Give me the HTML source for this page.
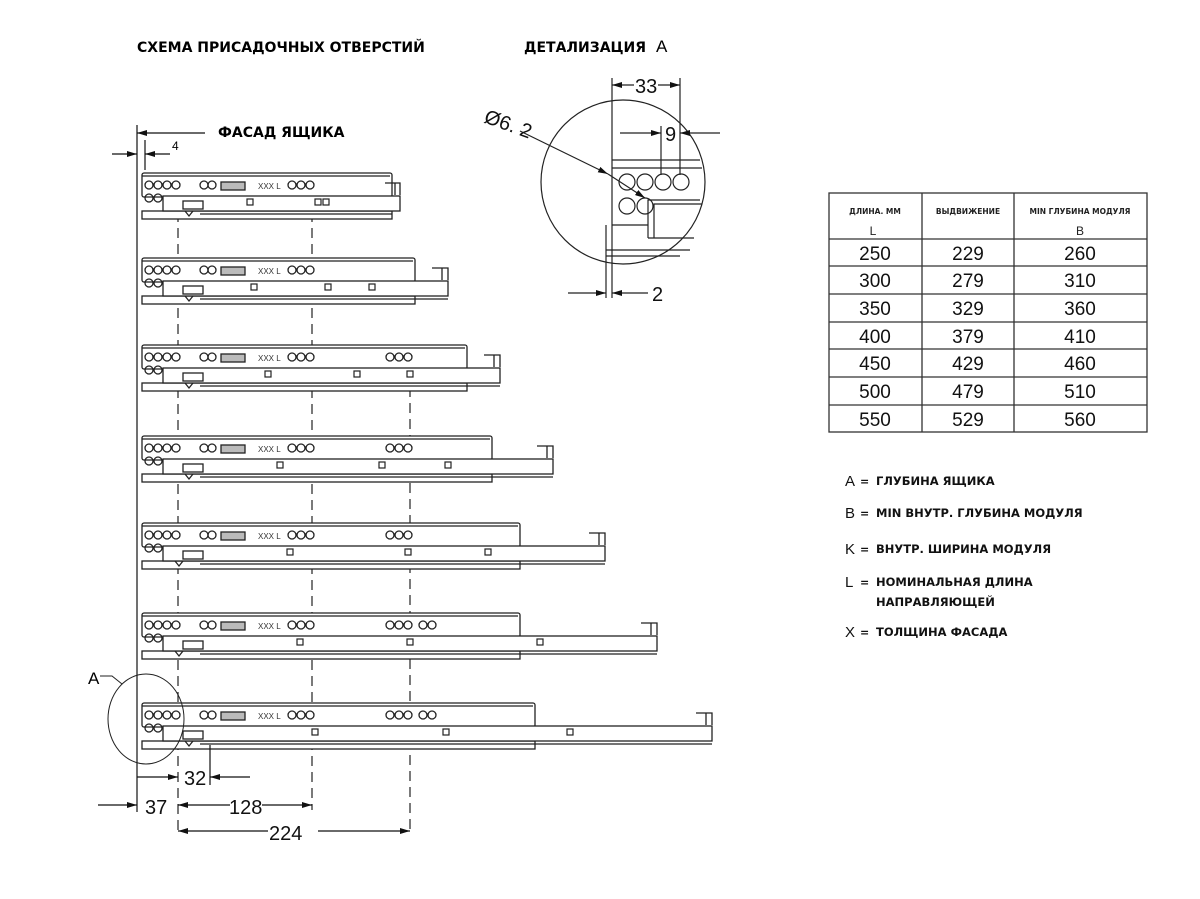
<!DOCTYPE html>
<html><head><meta charset="utf-8"><style>
body{margin:0;background:#fff;}
svg{display:block;}
.t{font-family:"Liberation Sans",sans-serif;}
.b{font-family:"DejaVu Sans","Liberation Sans",sans-serif;font-weight:bold;}
.n{font-family:"Liberation Sans Narrow","Liberation Sans",sans-serif;}
</style></head><body>
<svg width="1200" height="899" viewBox="0 0 1200 899" xmlns="http://www.w3.org/2000/svg">
<defs>
<marker id="ar" viewBox="0 0 10 6" refX="10" refY="3" markerWidth="10" markerHeight="6" orient="auto-start-reverse" markerUnits="userSpaceOnUse"><path d="M0,0 L10,3 L0,6z" fill="#111"/></marker>
<g id="h" fill="none" stroke="#222" stroke-width="1.3">
<circle cx="149" cy="12" r="4"/><circle cx="158" cy="12" r="4"/><circle cx="167" cy="12" r="4"/><circle cx="176" cy="12" r="4"/>
<circle cx="149" cy="25" r="4"/><circle cx="158" cy="25" r="4"/>
<circle cx="204" cy="12" r="4"/><circle cx="212" cy="12" r="4"/>
<rect x="221" y="9" width="24" height="8" fill="#bbb"/>
<circle cx="292" cy="12" r="4"/><circle cx="301" cy="12" r="4"/><circle cx="310" cy="12" r="4"/>
<rect x="183" y="28" width="20" height="8"/>
</g>
<g id="x3" fill="none" stroke="#222" stroke-width="1.3"><circle cx="390" cy="12" r="4"/><circle cx="399" cy="12" r="4"/><circle cx="408" cy="12" r="4"/></g>
<g id="x2" fill="none" stroke="#222" stroke-width="1.3"><circle cx="423" cy="12" r="4"/><circle cx="432" cy="12" r="4"/></g>
<rect id="sq" x="-3" y="26" width="6" height="6" fill="#fff" stroke="#222" stroke-width="1.2"/>
</defs>

<text x="137" y="52" class="b" font-size="14">СХЕМА ПРИСАДОЧНЫХ ОТВЕРСТИЙ</text>
<text x="524" y="52" class="b" font-size="14">ДЕТАЛИЗАЦИЯ</text>
<text x="656" y="52" class="n" font-size="17">A</text>
<text x="218" y="137" class="b" font-size="14">ФАСАД ЯЩИКА</text>

<g stroke="#111" stroke-width="1.2" fill="none">
<line x1="137" y1="125" x2="137" y2="812"/>
<line x1="145" y1="140" x2="145" y2="170"/>
<line x1="188" y1="133" x2="137" y2="133" marker-end="url(#ar)"/>
<line x1="188" y1="133" x2="205" y2="133"/>
<line x1="112" y1="154" x2="137" y2="154" marker-end="url(#ar)"/>
<line x1="170" y1="154" x2="145" y2="154" marker-end="url(#ar)"/>
</g>
<text x="172" y="150" class="n" font-size="12">4</text>

<!-- dashed -->
<g stroke="#222" stroke-width="1.2" stroke-dasharray="10,6">
<line x1="178" y1="180" x2="178" y2="835"/>
<line x1="312" y1="180" x2="312" y2="810"/>
<line x1="410" y1="355" x2="410" y2="835"/>
</g>

<!-- rail template applied -->
<g stroke="#222" stroke-width="1.3" fill="#fff">
<!-- rail 1 -->
<g transform="translate(0,173)"><rect x="142" y="0" width="250" height="24" rx="2"/><line x1="142" y1="3" x2="390" y2="3"/><rect x="142" y="38" width="250" height="8"/><line x1="200" y1="41" x2="392" y2="41"/><rect x="163" y="23" width="237" height="15"/><path d="M385,10 h10 v12 M395,10 h5 v12" fill="none"/><use href="#h"/><use href="#sq" x="250"/><use href="#sq" x="318"/><use href="#sq" x="326"/><path d="M185,38 l4,5 l4,-5" fill="none"/></g>
<!-- rail 2 -->
<g transform="translate(0,258)"><rect x="142" y="0" width="273" height="24" rx="2"/><line x1="142" y1="3" x2="413" y2="3"/><rect x="142" y="38" width="273" height="8"/><line x1="200" y1="41" x2="448" y2="41"/><rect x="163" y="23" width="285" height="15"/><path d="M432,10 h10 v12 M442,10 h6 v12" fill="none"/><use href="#h"/><use href="#sq" x="254"/><use href="#sq" x="328"/><use href="#sq" x="372"/><path d="M185,38 l4,5 l4,-5" fill="none"/></g>
<!-- rail 3 -->
<g transform="translate(0,345)"><rect x="142" y="0" width="325" height="24" rx="2"/><line x1="142" y1="3" x2="465" y2="3"/><rect x="142" y="38" width="325" height="8"/><line x1="200" y1="41" x2="500" y2="41"/><rect x="163" y="23" width="337" height="15"/><path d="M484,10 h10 v12 M494,10 h6 v12" fill="none"/><use href="#h"/><use href="#x3"/><use href="#sq" x="268"/><use href="#sq" x="357"/><use href="#sq" x="410"/><path d="M185,38 l4,5 l4,-5" fill="none"/></g>
<!-- rail 4 -->
<g transform="translate(0,436)"><rect x="142" y="0" width="350" height="24" rx="2"/><line x1="142" y1="3" x2="490" y2="3"/><rect x="142" y="38" width="350" height="8"/><line x1="200" y1="41" x2="553" y2="41"/><rect x="163" y="23" width="390" height="15"/><path d="M537,10 h10 v12 M547,10 h6 v12" fill="none"/><use href="#h"/><use href="#x3"/><use href="#sq" x="280"/><use href="#sq" x="382"/><use href="#sq" x="448"/><path d="M185,38 l4,5 l4,-5" fill="none"/></g>
<!-- rail 5 -->
<g transform="translate(0,523)"><rect x="142" y="0" width="378" height="24" rx="2"/><line x1="142" y1="3" x2="518" y2="3"/><rect x="142" y="38" width="378" height="8"/><line x1="200" y1="41" x2="605" y2="41"/><rect x="163" y="23" width="442" height="15"/><path d="M589,10 h10 v12 M599,10 h6 v12" fill="none"/><use href="#h"/><use href="#x3"/><use href="#sq" x="290"/><use href="#sq" x="408"/><use href="#sq" x="488"/><path d="M175,38 l4,5 l4,-5" fill="none"/></g>
<!-- rail 6 -->
<g transform="translate(0,613)"><rect x="142" y="0" width="378" height="24" rx="2"/><line x1="142" y1="3" x2="518" y2="3"/><rect x="142" y="38" width="378" height="8"/><line x1="200" y1="41" x2="657" y2="41"/><rect x="163" y="23" width="494" height="15"/><path d="M641,10 h10 v12 M651,10 h6 v12" fill="none"/><use href="#h"/><use href="#x3"/><use href="#x2"/><use href="#sq" x="300"/><use href="#sq" x="410"/><use href="#sq" x="540"/><path d="M175,38 l4,5 l4,-5" fill="none"/></g>
<!-- rail 7 -->
<g transform="translate(0,703)"><rect x="142" y="0" width="393" height="24" rx="2"/><line x1="142" y1="3" x2="533" y2="3"/><rect x="142" y="38" width="393" height="8"/><line x1="200" y1="41" x2="712" y2="41"/><rect x="163" y="23" width="549" height="15"/><path d="M696,10 h10 v12 M706,10 h6 v12" fill="none"/><use href="#h"/><use href="#x3"/><use href="#x2"/><use href="#sq" x="315"/><use href="#sq" x="446"/><use href="#sq" x="570"/><path d="M185,38 l4,5 l4,-5" fill="none"/></g>
</g>
<g class="n" font-size="8" fill="#333">
<text x="258" y="189">XXX L</text><text x="258" y="274">XXX L</text><text x="258" y="361">XXX L</text><text x="258" y="452">XXX L</text><text x="258" y="539">XXX L</text><text x="258" y="629">XXX L</text><text x="258" y="719">XXX L</text>
</g>

<!-- A circle -->
<ellipse cx="146" cy="719" rx="38" ry="45" fill="none" stroke="#222" stroke-width="1"/>
<path d="M100,676 h12 l10,8" fill="none" stroke="#222" stroke-width="1"/>
<text x="88" y="684" class="n" font-size="17">A</text>

<!-- bottom dims -->
<g stroke="#111" stroke-width="1.2" fill="none">
<line x1="210" y1="745" x2="210" y2="785"/>
<line x1="137" y1="777" x2="178" y2="777" marker-end="url(#ar)"/>
<line x1="250" y1="777" x2="210" y2="777" marker-end="url(#ar)"/>
<line x1="98" y1="805" x2="137" y2="805" marker-end="url(#ar)"/>
<line x1="212" y1="805" x2="178" y2="805" marker-end="url(#ar)"/>
<line x1="212" y1="805" x2="230" y2="805"/>
<line x1="262" y1="805" x2="312" y2="805" marker-end="url(#ar)"/>
<line x1="268" y1="831" x2="178" y2="831" marker-end="url(#ar)"/>
<line x1="318" y1="831" x2="410" y2="831" marker-end="url(#ar)"/>
</g>
<g class="n" font-size="20" fill="#111">
<rect x="183" y="766" width="24" height="20" fill="#fff"/>
<text x="184" y="785">32</text>
<rect x="143" y="793" width="26" height="22" fill="#fff"/>
<text x="145" y="814">37</text>
<text x="229" y="814">128</text>
<text x="269" y="840">224</text>
</g>

<!-- detail A -->
<g stroke="#222" stroke-width="1.2" fill="none">
<circle cx="623" cy="182" r="82"/>
<line x1="612" y1="78" x2="612" y2="298"/>
<line x1="606" y1="225" x2="606" y2="298"/>
<line x1="680" y1="78" x2="680" y2="175"/>
<line x1="661" y1="126" x2="661" y2="175"/>
<line x1="645" y1="85" x2="612" y2="85" marker-end="url(#ar)"/>
<line x1="652" y1="85" x2="680" y2="85" marker-end="url(#ar)" />
<line x1="620" y1="133" x2="661" y2="133" marker-end="url(#ar)"/>
<line x1="720" y1="133" x2="680" y2="133" marker-end="url(#ar)"/>
<line x1="568" y1="293" x2="606" y2="293" marker-end="url(#ar)"/>
<line x1="648" y1="293" x2="612" y2="293" marker-end="url(#ar)"/>
<line x1="612" y1="160" x2="700" y2="160"/>
<line x1="612" y1="168" x2="702" y2="168"/>
<circle cx="627" cy="182" r="8"/><circle cx="645" cy="182" r="8"/><circle cx="663" cy="182" r="8"/><circle cx="681" cy="182" r="8"/>
<circle cx="627" cy="206" r="8"/><circle cx="645" cy="206" r="8"/>
<path d="M648,238 V200 H700 M654,238 V204 H702 M648,238 H694" />
<line x1="612" y1="225" x2="648" y2="225"/>
<line x1="606" y1="250" x2="690" y2="250"/>
<line x1="606" y1="256" x2="680" y2="256"/>
<line x1="520" y1="131" x2="608" y2="174" marker-end="url(#ar)"/>
<line x1="608" y1="174" x2="645" y2="198" marker-end="url(#ar)"/>
</g>
<g class="n" font-size="20" fill="#111">
<rect x="634" y="75" width="24" height="20" fill="#fff"/>
<text x="635" y="93">33</text>
<text x="665" y="141">9</text>
<text x="652" y="301">2</text>
<text x="483" y="122" transform="rotate(20 483 122)">Ø6. 2</text>
</g>

<!-- table -->
<g stroke="#333" stroke-width="1.3" fill="none">
<rect x="829" y="193" width="318" height="239"/>
<line x1="922" y1="193" x2="922" y2="432"/>
<line x1="1014" y1="193" x2="1014" y2="432"/>
<line x1="829" y1="239" x2="1147" y2="239"/>
<line x1="829" y1="266" x2="1147" y2="266"/>
<line x1="829" y1="294" x2="1147" y2="294"/>
<line x1="829" y1="322" x2="1147" y2="322"/>
<line x1="829" y1="349" x2="1147" y2="349"/>
<line x1="829" y1="377" x2="1147" y2="377"/>
<line x1="829" y1="405" x2="1147" y2="405"/>
</g>
<g class="b" font-size="7.5" fill="#222" text-anchor="middle">
<text x="875" y="214">ДЛИНА. ММ</text><text x="968" y="214">ВЫДВИЖЕНИЕ</text><text x="1080" y="214">MIN ГЛУБИНА МОДУЛЯ</text>
</g>
<g class="n" font-size="12" fill="#222" text-anchor="middle"><text x="873" y="235">L</text><text x="1080" y="235">B</text></g>
<g class="n" font-size="19" fill="#111" text-anchor="middle">
<text x="875" y="260">250</text><text x="968" y="260">229</text><text x="1080" y="260">260</text>
<text x="875" y="287">300</text><text x="968" y="287">279</text><text x="1080" y="287">310</text>
<text x="875" y="315">350</text><text x="968" y="315">329</text><text x="1080" y="315">360</text>
<text x="875" y="343">400</text><text x="968" y="343">379</text><text x="1080" y="343">410</text>
<text x="875" y="370">450</text><text x="968" y="370">429</text><text x="1080" y="370">460</text>
<text x="875" y="398">500</text><text x="968" y="398">479</text><text x="1080" y="398">510</text>
<text x="875" y="426">550</text><text x="968" y="426">529</text><text x="1080" y="426">560</text>
</g>

<!-- legend -->
<g class="b" font-size="11.5" fill="#111">
<text x="876" y="485">ГЛУБИНА ЯЩИКА</text>
<text x="876" y="517">MIN ВНУТР. ГЛУБИНА МОДУЛЯ</text>
<text x="876" y="553">ВНУТР. ШИРИНА МОДУЛЯ</text>
<text x="876" y="586">НОМИНАЛЬНАЯ ДЛИНА</text>
<text x="876" y="606">НАПРАВЛЯЮЩЕЙ</text>
<text x="876" y="636">ТОЛЩИНА ФАСАДА</text>
</g>
<g class="n" font-size="15" fill="#111">
<text x="845" y="486">A</text><text x="845" y="518">B</text><text x="845" y="554">K</text><text x="845" y="587">L</text><text x="845" y="637">X</text>
</g>
<g class="b" font-size="11" fill="#111">
<text x="860" y="485">=</text><text x="860" y="517">=</text><text x="860" y="553">=</text><text x="860" y="586">=</text><text x="860" y="636">=</text>
</g>
</svg>
</body></html>
